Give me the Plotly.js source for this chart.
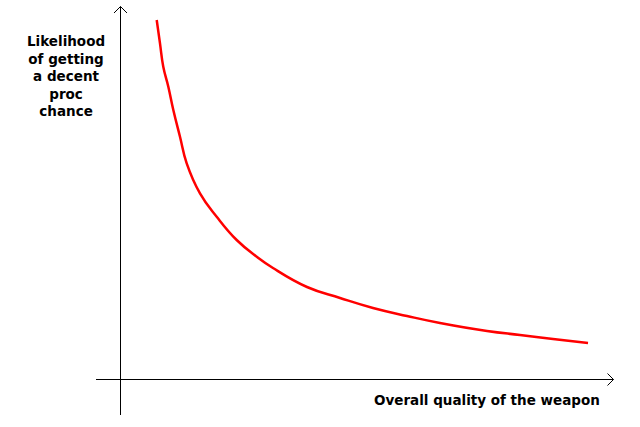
<!DOCTYPE html>
<html>
<head>
<meta charset="utf-8">
<script src="https://cdn.plot.ly/plotly-3.0.1.min.js"></script>
<style>html,body{margin:0;padding:0;background:#fff;}#chart{width:640px;height:427px;}</style>
</head>
<body>
<div id="chart"></div>
<script>
// Curve (quality -> likelihood, arbitrary units, origin at axis crossing)
const quality = [0.739, 0.806, 0.873, 0.976, 1.078, 1.214, 1.351, 1.622, 1.963, 2.371, 2.780, 3.112, 3.806, 4.480, 5.153, 5.847, 6.520, 7.480, 8.153, 8.827, 9.541];
const likelihood = [9.716, 9.086, 8.454, 7.914, 7.284, 6.562, 5.843, 5.032, 4.400, 3.770, 3.319, 3.014, 2.500, 2.203, 1.932, 1.716, 1.527, 1.311, 1.203, 1.095, 0.986];
const xLabel = "Overall quality of the weapon";
const yLabel = "Likelihood<br>of getting<br>a decent<br>proc<br>chance";

// pixel <-> data helpers (layout only)
const W = 640, H = 427, ox = 120.5, oy = 379.5, sx = 49, sy = 37;
const dx = p => (p - ox) / sx;
const dy = p => (oy - p) / sy;

const font = {family: "DejaVu Sans, Verdana, sans-serif", size: 13.5, color: "#000"};

const shapes = [
  {type: "line", xref: "x", yref: "y", x0: 0, x1: 0, y0: dy(415), y1: dy(6.5), line: {color: "#000", width: 1}},
  {type: "line", xref: "x", yref: "y", x0: dx(96), x1: dx(613.5), y0: 0, y1: 0, line: {color: "#000", width: 1}},
  {type: "path", xref: "x", yref: "y",
   path: `M${dx(114)},${dy(13)} L${dx(120.5)},${dy(6.5)} L${dx(127)},${dy(13)}`, line: {color: "#000", width: 1}},
  {type: "path", xref: "x", yref: "y",
   path: `M${dx(607.5)},${dy(373.5)} L${dx(613.5)},${dy(379.5)} L${dx(607.5)},${dy(385.5)}`, line: {color: "#000", width: 1}}
];

const trace = {
  x: quality, y: likelihood, type: "scatter", mode: "lines",
  line: {color: "#ff0000", width: 2.5, shape: "spline", smoothing: 1.3},
  hoverinfo: "skip"
};

const layout = {
  width: W, height: H,
  margin: {l: 0, r: 0, t: 0, b: 0, pad: 0},
  paper_bgcolor: "#fff", plot_bgcolor: "#fff",
  showlegend: false,
  xaxis: {range: [dx(0), dx(W)], visible: false, fixedrange: true},
  yaxis: {range: [dy(H), dy(0)], visible: false, fixedrange: true},
  shapes: shapes,
  annotations: [
    {text: "<b>" + yLabel + "</b>", xref: "paper", yref: "paper", x: 66 / W, y: 1 - 76.5 / H,
     xanchor: "center", yanchor: "middle", showarrow: false, align: "center", font: font},
    {text: "<b>" + xLabel + "</b>", xref: "paper", yref: "paper", x: 487 / W, y: 1 - 400 / H,
     xanchor: "center", yanchor: "middle", showarrow: false, font: font}
  ]
};

Plotly.newPlot("chart", [trace], layout, {displayModeBar: false, staticPlot: true});
</script>
</body>
</html>
